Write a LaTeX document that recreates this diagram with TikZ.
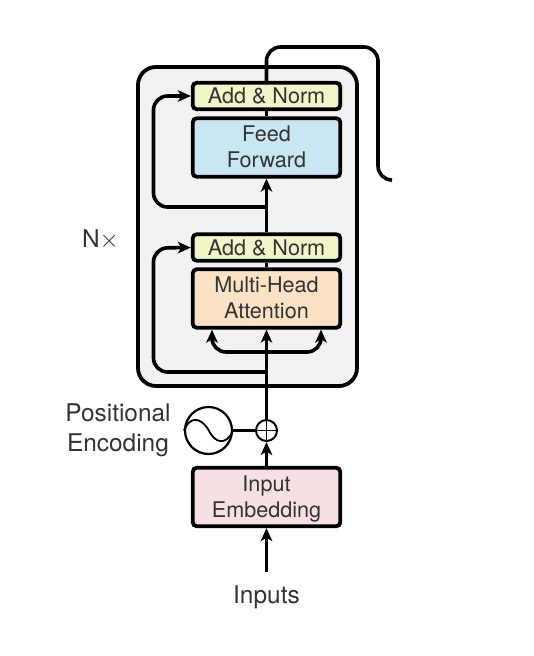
\documentclass[tikz,border=0pt]{standalone}
\usepackage{fontspec}
\setmainfont{TeX Gyre Heros}
\usetikzlibrary{arrows.meta,calc}
\definecolor{addc}{HTML}{F3F5C9}
\definecolor{ffc}{HTML}{C9E6F4}
\definecolor{mhac}{HTML}{FBE2C5}
\definecolor{embc}{HTML}{F7E0E2}
\definecolor{stackc}{HTML}{F2F2F2}
\definecolor{txtc}{HTML}{333333}
\tikzset{
  blockbox/.style={draw=black,line width=3.8pt,rounded corners=4pt,minimum width=147.5pt,inner sep=0pt,align=center,font=\fontsize{21.6}{26}\selectfont,text=txtc},
  thinbox/.style={blockbox,minimum height=26.5pt},
  tallbox/.style={blockbox,minimum height=58.5pt},
  wire/.style={line width=3.6pt,rounded corners=14pt},
  arrowwire/.style={wire,-{Stealth[length=13pt,width=11.5pt,inset=3.5pt]}},
  caption/.style={font=\fontsize{24.4}{30}\selectfont,text=txtc,align=center,inner sep=0pt},
}
\begin{document}
\begin{tikzpicture}[x=1pt,y=-1pt]
\useasboundingbox (0,0) rectangle (534,656);
\node[draw=black,fill=stackc,line width=3.8pt,rounded corners=18pt,minimum width=219pt,minimum height=319pt,inner sep=0pt] (stack) at (247.5,226.5) {};
\node[thinbox,fill=addc] (addB) at (266.5,96) {Add \& Norm};
\node[tallbox,fill=ffc] (ff) at (266.5,147.5) {Feed\\Forward\rule[-2pt]{0pt}{0pt}};
\node[thinbox,fill=addc] (addA) at (266.5,247.5) {Add \& Norm};
\node[tallbox,fill=mhac] (mha) at (266.5,298.5) {Multi-Head\\Attention\rule[-2pt]{0pt}{0pt}};
\node[tallbox,fill=embc] (emb) at (266.5,497) {Input\\\smash{Embedding}};
\node[draw=black,line width=2.2pt,circle,minimum size=47pt,inner sep=0pt] (pe) at (208.5,430.5) {};
\node[draw=black,line width=2pt,circle,minimum size=21pt,inner sep=0pt] (plus) at (266.5,430.5) {};
\draw[line width=1.4pt] (plus.north) -- (plus.south) (plus.west) -- (plus.east);
\draw[line width=1.8pt] (pe.west) .. controls (190,416) and (200,417) .. (208,429) .. controls (215,444) and (226,446) .. (pe.east);
\node[caption] (nx) at (100.5,240) {N$\times$};
\node[caption] (pelabel) at (118,430.5) {Positional\\Encoding};
\node[caption] (inputs) at (266.5,597.5) {Inputs};
\coordinate (start) at (266.5,572);
\coordinate (splitA) at (266.5,372);
\coordinate (splitM) at (266.5,352);
\coordinate (splitB) at (266.5,207);
\coordinate (out) at (392,180);
\draw[arrowwire] (start) -- (emb.south);
\draw[arrowwire] (emb.north) -- (plus.south);
\draw[wire] (pe.east) -- (plus.west);
\draw[arrowwire] (plus.north) -- (mha.south);
\draw[arrowwire] (splitM) -| ($(mha.south)+(-54.5,0)$);
\draw[arrowwire] (splitM) -| ($(mha.south)+(54.5,0)$);
\draw[arrowwire] (splitA) -| (153.5,248) -- (addA.west);
\draw[wire] (mha.north) -- (addA.south);
\draw[arrowwire] (addA.north) -- (ff.south);
\draw[arrowwire] (splitB) -| (153.5,96) -- (addB.west);
\draw[wire] (ff.north) -- (addB.south);
\draw[wire] (addB.north) |- (378,47) |- (out);
\end{tikzpicture}
\end{document}
